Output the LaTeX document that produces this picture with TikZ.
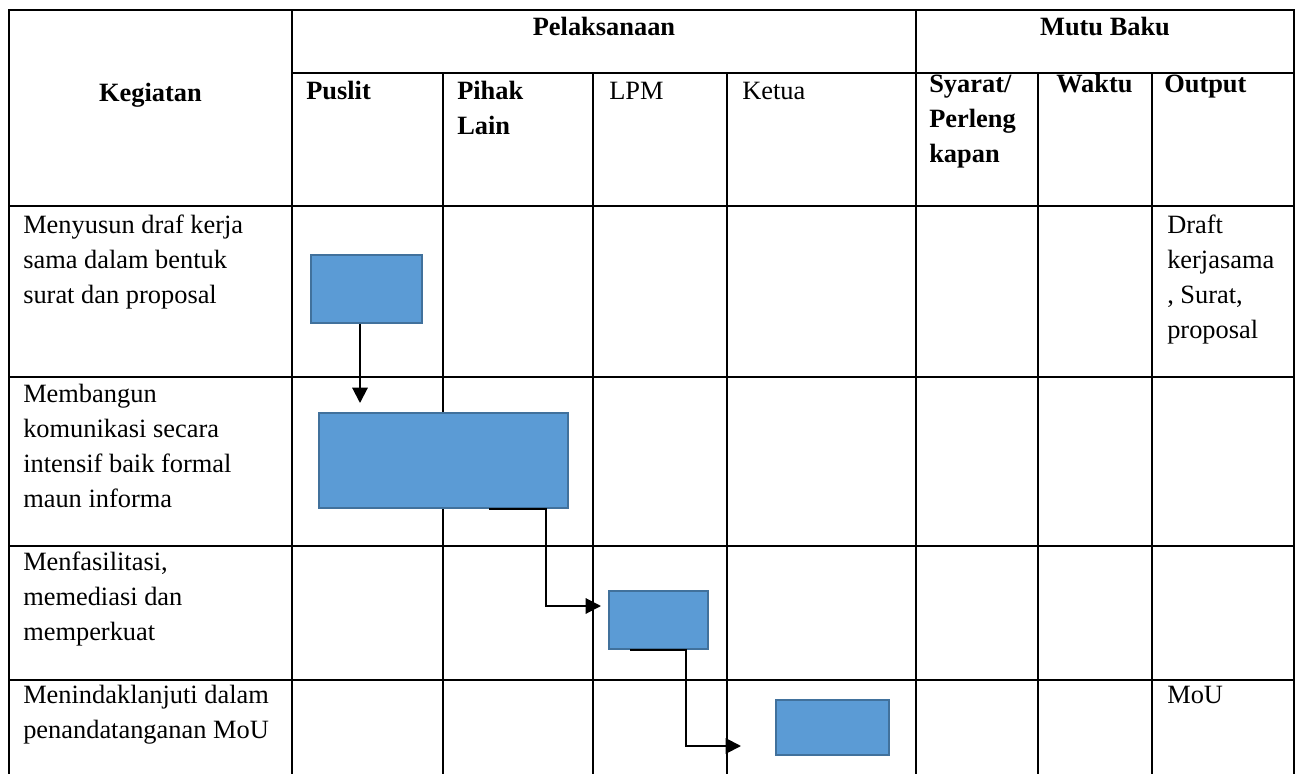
\documentclass[tikz,border=0pt]{standalone}
\usepackage{fontspec}
\setmainfont{Liberation Serif}
\usetikzlibrary{arrows.meta}
\definecolor{barfill}{HTML}{5B9BD5}
\definecolor{barline}{HTML}{41719C}
\newcommand{\cellfont}{\fontsize{19.8}{26.25}\selectfont}

\begin{document}
\begin{tikzpicture}[x=0.75pt,y=-0.75pt,
		grid/.style={line width=1.5pt},
		cell/.style={anchor=north west,inner sep=0pt,align=left,font=\cellfont},
		head/.style={cell,font=\cellfont\bfseries},
		title/.style={anchor=base,inner sep=0pt,font=\cellfont\bfseries},
		bar/.style={draw=barline,fill=barfill,line width=1pt,inner sep=0pt},
		link/.style={line width=1.5pt,-{Triangle[length=11.5pt,width=11.5pt]}}]
		\useasboundingbox[fill=white] (0,0) rectangle (1302,774);
		
		% table lines
		\draw[grid] (9,774) -- (9,10) -- (1294,10) -- (1294,774);
		\draw[grid] (292,10) -- (292,774);
		\draw[grid] (916,10) -- (916,774);
		\draw[grid] (292,73) -- (1294,73);
		\draw[grid] (443,73) -- (443,774);
		\draw[grid] (593,73) -- (593,774);
		\draw[grid] (727,73) -- (727,774);
		\draw[grid] (1038,73) -- (1038,774);
		\draw[grid] (1152,73) -- (1152,774);
		\draw[grid] (9,206) -- (1294,206);
		\draw[grid] (9,377) -- (1294,377);
		\draw[grid] (9,546) -- (1294,546);
		\draw[grid] (9,680) -- (1294,680);
		
		% header
		\node[title] (keg) at (150.5,101) {Kegiatan};
		\node[title] (pel) at (604,36) {Pelaksanaan};
		\node[title] (mutu) at (1105,36) {Mutu Baku};
		\node[head] (puslit) at (306,74.5) {\strut Puslit};
		\node[head] (pihak) at (457,74.5) {\strut Pihak\\Lain};
		\node[cell] (lpm) at (609,74.5) {\strut LPM};
		\node[cell] (ketua) at (742,74.5) {\strut Ketua};
		\node[head] (syarat) at (929,67.5) {\strut Syarat/\\Perleng\\kapan};
		\node[head] (waktu) at (1056,67.5) {\strut Waktu};
		\node[head] (output) at (1164,67.5) {\strut Output};
		
		% rows
		\node[cell] (k1) at (23,208.5) {\strut Menyusun draf kerja\\sama dalam bentuk\\surat dan proposal};
		\node[cell] (k2) at (23,377.5) {\strut Membangun\\komunikasi secara\\intensif baik formal\\maun informa};
		\node[cell] (k3) at (23,545.5) {\strut Menfasilitasi,\\memediasi dan\\memperkuat};
		\node[cell] (k4) at (23,678.5) {\strut Menindaklanjuti dalam\\penandatanganan MoU};
		\node[cell] (o1) at (1167,208.5) {\strut Draft\\kerjasama\\, Surat,\\proposal};
		\node[cell] (o4) at (1167,678.5) {\strut MoU};
		
		% bars
		\node[bar,minimum width=111*0.75pt,minimum height=68*0.75pt] (b1) at (366.5,289) {};
		\node[bar,minimum width=249*0.75pt,minimum height=95*0.75pt] (b2) at (443.5,460.5) {};
		\node[bar,minimum width=99*0.75pt,minimum height=58*0.75pt] (b3) at (658.5,620) {};
		\node[bar,minimum width=113*0.75pt,minimum height=55*0.75pt] (b4) at (832.5,727.5) {};
		
		\coordinate (t1) at (360,403);
		\coordinate (t2) at (601,606);
		\coordinate (t3) at (741,746);
		\draw[link] ([xshift=-4.875pt]b1.south) -- (t1);
		\draw[link] ([xshift=34.125pt]b2.south) -- ++(57,0) |- (t2);
		\draw[link] ([xshift=-21.375pt]b3.south) -- ++(56,0) |- (t3);
	\end{tikzpicture}
\end{document}
